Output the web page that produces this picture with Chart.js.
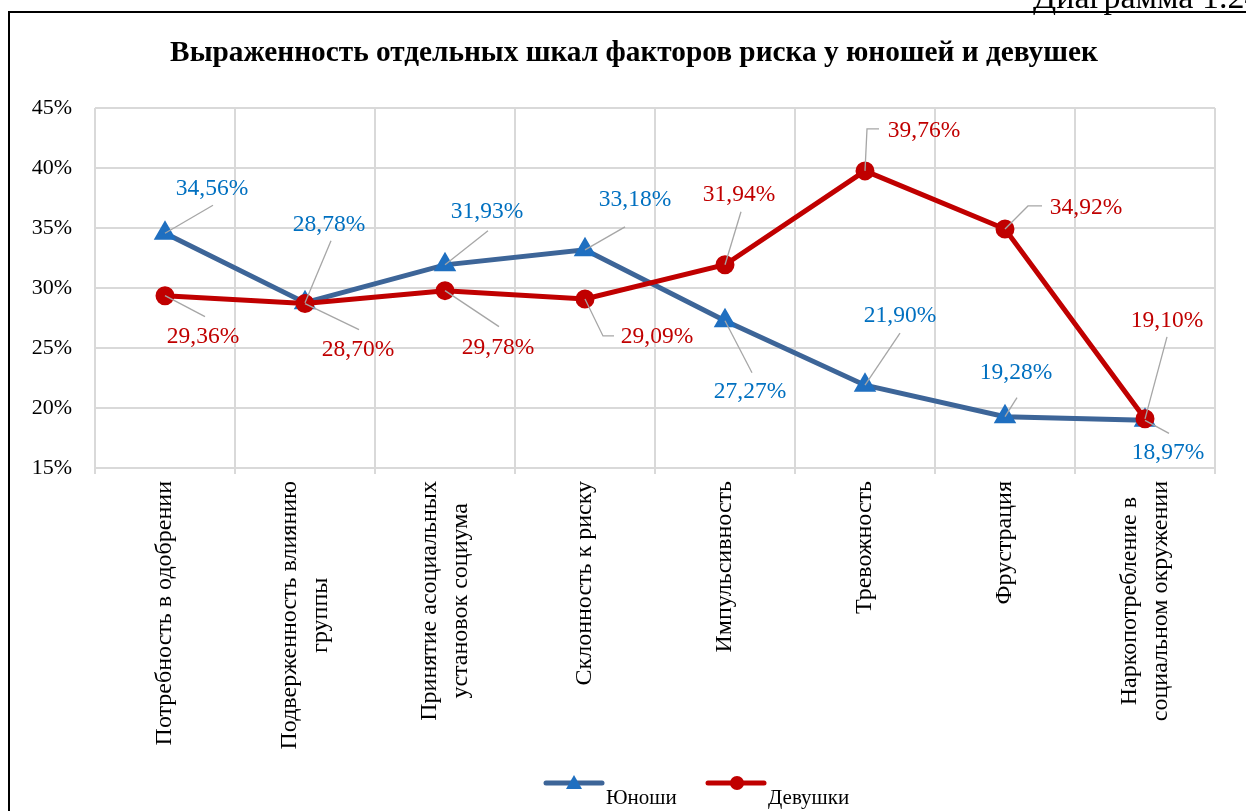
<!DOCTYPE html>
<html>
<head>
<meta charset="utf-8">
<script src="https://cdn.jsdelivr.net/npm/chart.js@4"></script>
<style>
  html, body { margin: 0; padding: 0; background: #fff; overflow: hidden; }
  canvas { display: block; }
</style>
</head>
<body>
<canvas id="riskChart" width="1246" height="811"></canvas>
<script>
const categories = [
  ['Потребность в одобрении'],
  ['Подверженность влиянию', 'группы'],
  ['Принятие асоциальных', 'установок социума'],
  ['Склонность к риску'],
  ['Импульсивность'],
  ['Тревожность'],
  ['Фрустрация'],
  ['Наркопотребление в', 'социальном окружении']
]
const boysValues = [34.56, 28.78, 31.93, 33.18, 27.27, 21.90, 19.28, 18.97]
const girlsValues = [29.36, 28.70, 29.78, 29.09, 31.94, 39.76, 34.92, 19.10]
const yTicks = [15, 20, 25, 30, 35, 40, 45]

// where each data label sits relative to its point: text centre + leader line points
const boysLabelPos = [
  { text: [47, -44], leader: [[48, -28]] },
  { text: [24, -78], leader: [[26, -62]] },
  { text: [42, -53], leader: [[43, -34]] },
  { text: [50, -50], leader: [[40, -23]] },
  { text: [25, 71], leader: [[27, 52]] },
  { text: [35, -69], leader: [[35, -52]] },
  { text: [11, -44], leader: [[12, -19]] },
  { text: [23, 32], leader: [[24, 13]] }
]
const girlsLabelPos = [
  { text: [38, 41], leader: [[40, 21]] },
  { text: [53, 46], leader: [[54, 26]] },
  { text: [53, 57], leader: [[54, 36]] },
  { text: [72, 38], leader: [[18, 37], [29, 37]] },
  { text: [14, -70], leader: [[16, -53]] },
  { text: [59, -40], leader: [[2, -42], [14, -42]] },
  { text: [81, -21], leader: [[23, -23], [37, -23]] },
  { text: [22, -98], leader: [[22, -82]] }
]

const SERIF = '"Liberation Serif", "Times New Roman", serif'

const pageDecor = {
  id: 'pageDecor',
  beforeDraw(chart) {
    const ctx = chart.ctx
    ctx.save()
    ctx.strokeStyle = '#000'
    ctx.lineWidth = 2
    ctx.beginPath()
    ctx.moveTo(9, 830)
    ctx.lineTo(9, 12)
    ctx.lineTo(1260, 12)
    ctx.stroke()
    ctx.fillStyle = '#000'
    ctx.font = '34px ' + SERIF
    ctx.textAlign = 'left'
    ctx.textBaseline = 'alphabetic'
    ctx.fillText('Диаграмма 1.24', 1033, 8)
    ctx.font = 'bold 29.3px ' + SERIF
    ctx.textAlign = 'center'
    ctx.textBaseline = 'middle'
    ctx.fillText('Выраженность отдельных шкал факторов риска у юношей и девушек', 634, 53)
    ctx.restore()
  }
}

const categoryLabels = {
  id: 'categoryLabels',
  afterDraw(chart) {
    const ctx = chart.ctx
    const xs = chart.scales.x
    ctx.save()
    ctx.font = '24px ' + SERIF
    ctx.fillStyle = '#000'
    ctx.textAlign = 'center'
    ctx.textBaseline = 'middle'
    categories.forEach((lines, i) => {
      const x = xs.getPixelForValue(i)
      const maxW = Math.max(...lines.map(l => ctx.measureText(l).width))
      ctx.save()
      ctx.translate(x, chart.chartArea.bottom + 13)
      ctx.rotate(-Math.PI / 2)
      lines.forEach((l, j) => {
        ctx.fillText(l, -maxW / 2, (j - (lines.length - 1) / 2) * 31)
      })
      ctx.restore()
    })
    ctx.restore()
  }
}

const dataLabels = {
  id: 'dataLabels',
  afterDatasetsDraw(chart) {
    const ctx = chart.ctx
    ctx.save()
    chart.data.datasets.forEach((ds, di) => {
      const meta = chart.getDatasetMeta(di)
      meta.data.forEach((pt, i) => {
        const pos = ds.labelPos[i]
        ctx.strokeStyle = '#a6a6a6'
        ctx.lineWidth = 1.3
        ctx.beginPath()
        ctx.moveTo(pt.x, pt.y)
        pos.leader.forEach(p => ctx.lineTo(pt.x + p[0], pt.y + p[1]))
        ctx.stroke()
        ctx.font = '23.5px ' + SERIF
        ctx.fillStyle = ds.labelColor
        ctx.textAlign = 'center'
        ctx.textBaseline = 'middle'
        const txt = ds.data[i].toFixed(2).replace('.', ',') + '%'
        ctx.fillText(txt, pt.x + pos.text[0], pt.y + pos.text[1])
      })
    })
    ctx.restore()
  }
}

const bottomLegend = {
  id: 'bottomLegend',
  afterDraw(chart) {
    const ctx = chart.ctx
    const items = [
      { ds: chart.data.datasets[1], x: 546 },
      { ds: chart.data.datasets[0], x: 708 }
    ]
    ctx.save()
    items.forEach(({ ds, x }) => {
      const y = 783
      ctx.strokeStyle = ds.borderColor
      ctx.lineWidth = 5
      ctx.lineCap = 'round'
      ctx.beginPath()
      ctx.moveTo(x, y)
      ctx.lineTo(x + 56, y)
      ctx.stroke()
      ctx.fillStyle = ds.pointBackgroundColor
      ctx.beginPath()
      if (ds.pointStyle === 'triangle') {
        ctx.moveTo(x + 28, y - 8)
        ctx.lineTo(x + 36, y + 6)
        ctx.lineTo(x + 20, y + 6)
        ctx.closePath()
      } else {
        ctx.arc(x + 29, y, 7, 0, Math.PI * 2)
      }
      ctx.fill()
      ctx.fillStyle = '#000'
      ctx.font = '21px ' + SERIF
      ctx.textAlign = 'left'
      ctx.textBaseline = 'middle'
      ctx.fillText(ds.label, x + 60, y + 15)
    })
    ctx.restore()
  }
}

new Chart(document.getElementById('riskChart').getContext('2d'), {
  type: 'line',
  data: {
    labels: categories,
    datasets: [
      {
        label: 'Девушки',
        data: girlsValues,
        borderColor: '#c00000',
        borderWidth: 5,
        pointStyle: 'circle',
        pointRadius: 7,
        pointBackgroundColor: '#c00000',
        pointBorderColor: '#c00000',
        labelColor: '#c00000',
        labelPos: girlsLabelPos,
        tension: 0,
        order: 0
      },
      {
        label: 'Юноши',
        data: boysValues,
        borderColor: '#3d6598',
        borderWidth: 5,
        pointStyle: 'triangle',
        pointRadius: 8,
        pointBackgroundColor: '#1f6fc0',
        pointBorderColor: '#1f6fc0',
        labelColor: '#0070c0',
        labelPos: boysLabelPos,
        tension: 0,
        order: 1
      }
    ]
  },
  options: {
    responsive: false,
    animation: false,
    devicePixelRatio: 1,
    layout: { padding: { left: 10, right: 31, top: 108, bottom: 0 } },
    plugins: {
      legend: { display: false },
      title: { display: false },
      tooltip: { enabled: false }
    },
    scales: {
      x: {
        offset: true,
        grid: { offset: true, color: '#d9d9d9', lineWidth: 2, tickLength: 6 },
        border: { color: '#d9d9d9', width: 2 },
        ticks: { display: false },
        afterFit(scale) { scale.height = 343 }
      },
      y: {
        min: 15,
        max: 45,
        afterBuildTicks(scale) { scale.ticks = yTicks.map(v => ({ value: v })) },
        grid: { color: '#d9d9d9', lineWidth: 2, drawTicks: false },
        border: { display: false },
        ticks: {
          padding: 23,
          color: '#000',
          font: { family: SERIF, size: 22 },
          callback: v => v + '%'
        },
        afterFit(scale) { scale.width = 85 }
      }
    }
  },
  plugins: [pageDecor, categoryLabels, dataLabels, bottomLegend]
})
</script>
</body>
</html>
